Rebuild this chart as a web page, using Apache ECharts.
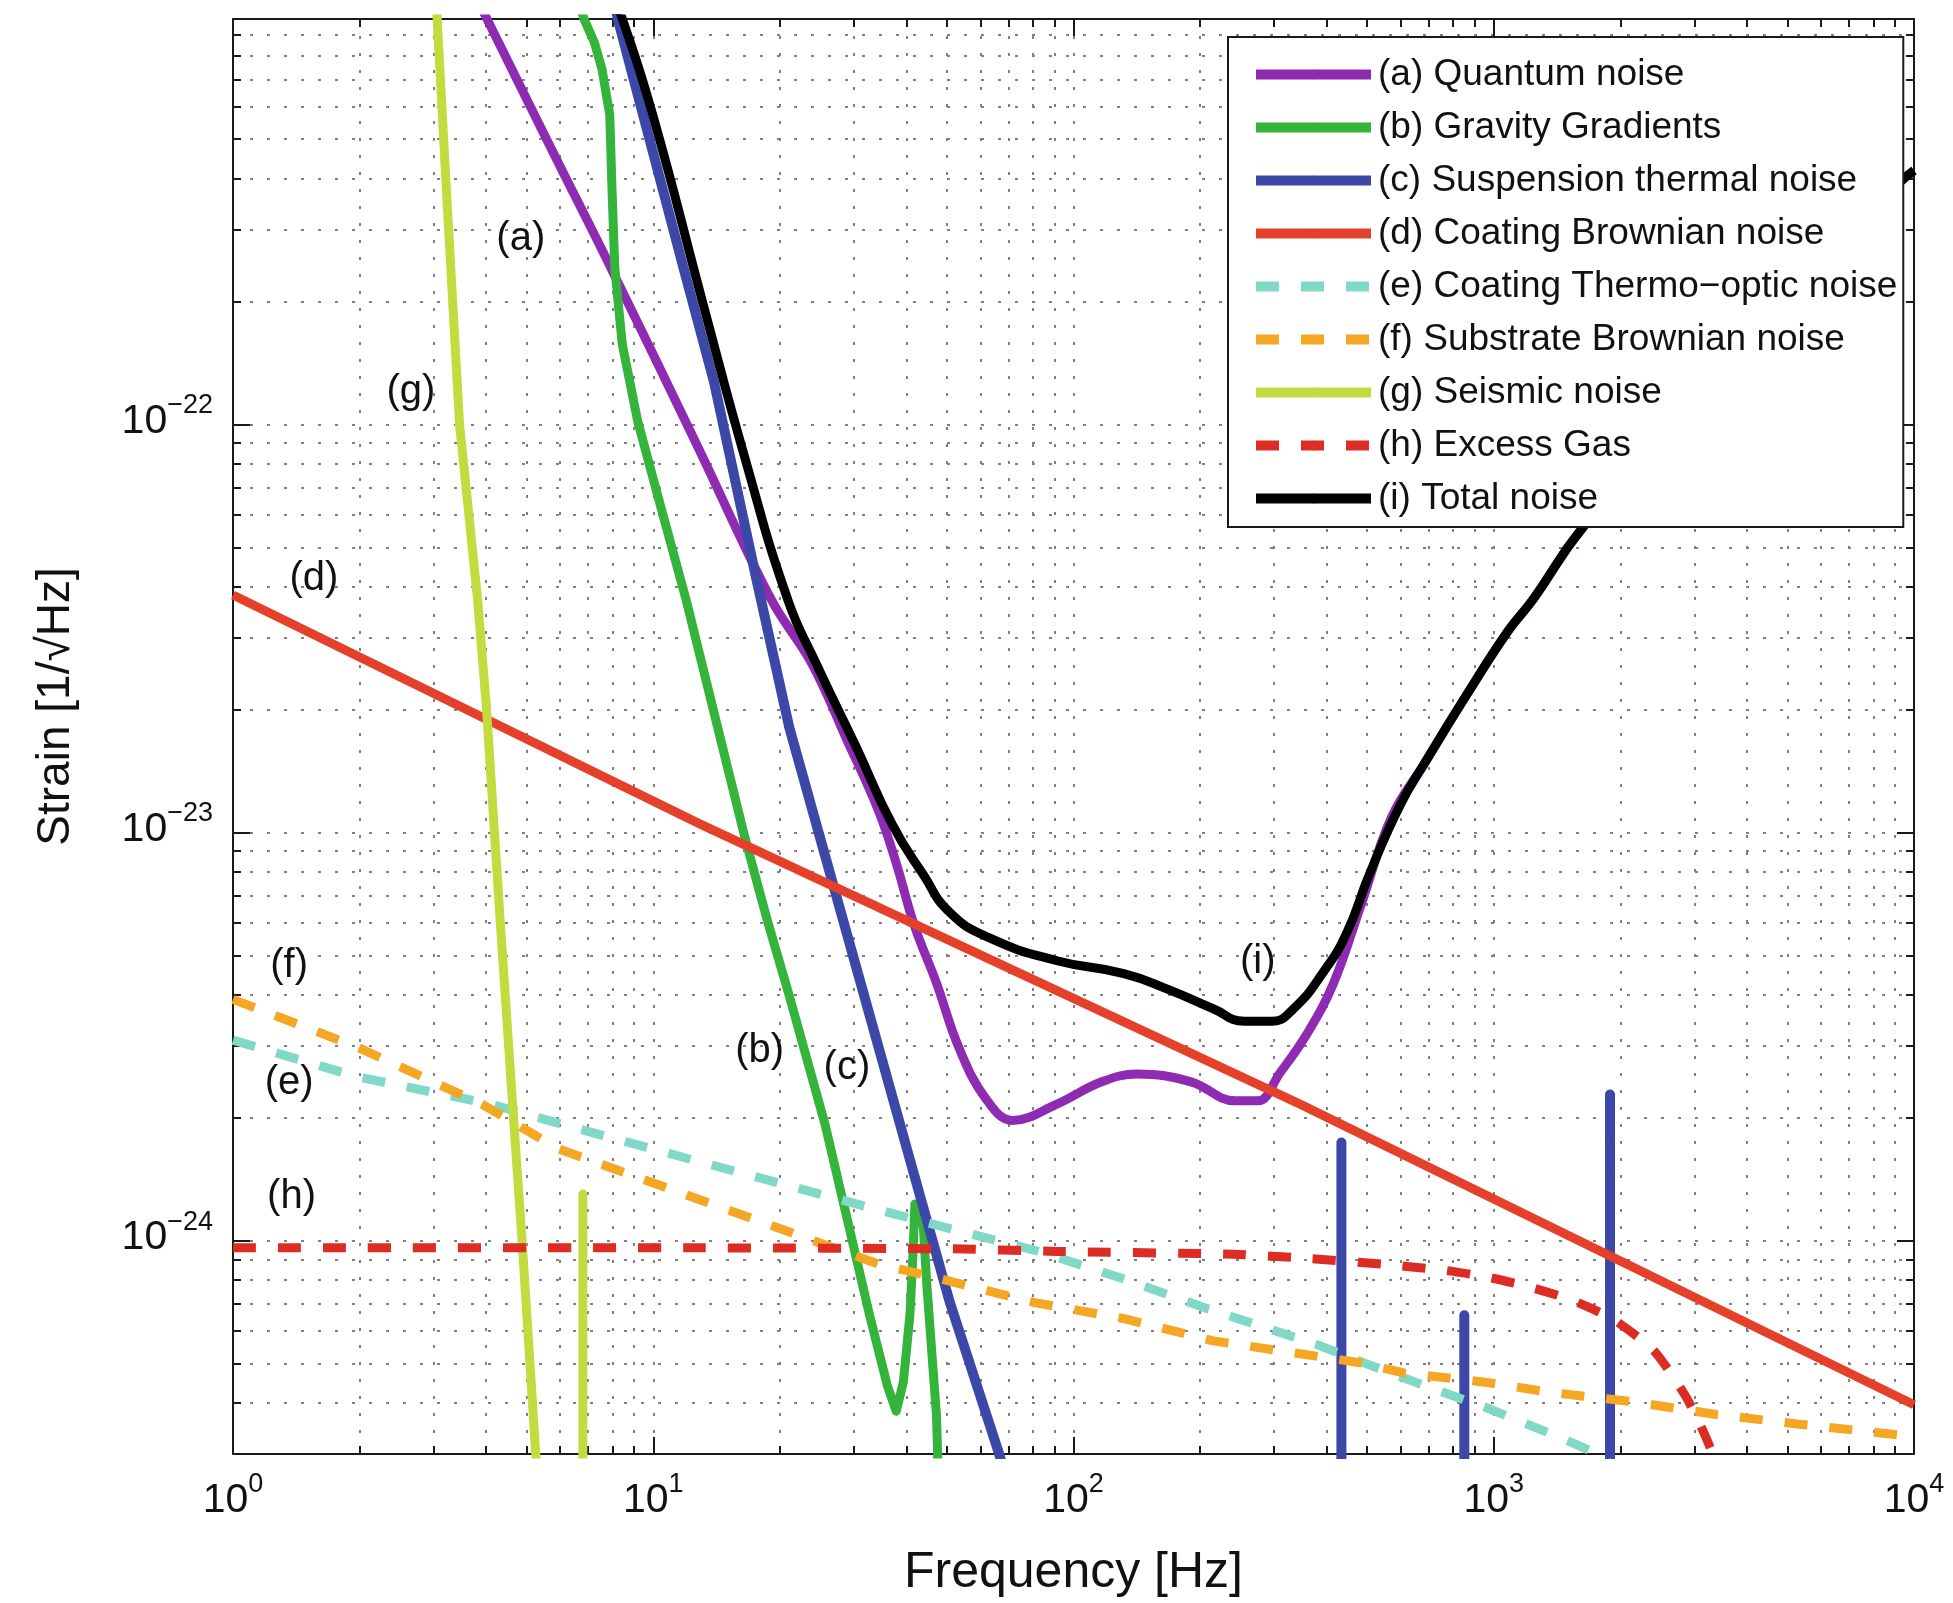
<!DOCTYPE html>
<html>
<head>
<meta charset="utf-8">
<script src="https://cdn.jsdelivr.net/npm/echarts@6/dist/echarts.min.js"></script>
<style>
html,body{margin:0;padding:0;background:#ffffff;}
#chart{width:1953px;height:1603px;}
</style>
</head>
<body>
<div id="chart"></div>
<script>
// ---------------- data (frequency in Hz, strain in 1/sqrt(Hz)) ----------------
const quantumF = [3.9, 5.79, 7.85, 12.66, 19.1, 23.8, 28.94, 34.36, 37.87, 41.8, 47.2, 53.3, 61.8, 71.6, 91.3, 116.7, 141.9, 190.3, 242.7, 274.5, 310.3, 359.4, 416, 482, 571, 685, 861, 1080, 1239, 1618, 3162, 9057, 10000];
const quantumH = [1.05e-21, 4.62e-22, 2.47e-22, 8.97e-23, 3.72e-23, 2.60e-23, 1.68e-23, 1.13e-23, 8.40e-24, 5.92e-24, 4.28e-24, 2.98e-24, 2.23e-24, 1.97e-24, 2.16e-24, 2.45e-24, 2.56e-24, 2.45e-24, 2.20e-24, 2.20e-24, 2.58e-24, 3.21e-24, 4.28e-24, 6.59e-24, 1.09e-23, 1.48e-23, 2.17e-23, 3.11e-23, 3.72e-23, 5.54e-23, 1.23e-22, 3.84e-22, 4.19e-22];

const gravityF = [6.6, 6.85, 7.25, 7.55, 7.88, 7.98, 8.10, 8.44, 9.18, 10.27, 11.97, 16.49, 18.64, 21.07, 25.62, 28.94, 32.72, 36.06, 37.86, 39.36, 40.8, 41.56, 41.93, 43.9, 44.71, 47.2, 47.5, 48];
const gravityH = [1.1e-21, 9.83e-22, 8.6e-22, 7.43e-22, 5.74e-22, 3.73e-22, 2.42e-22, 1.57e-22, 1.02e-22, 6.64e-23, 3.72e-23, 9.80e-24, 6.14e-24, 3.98e-24, 1.93e-24, 1.13e-24, 6.56e-25, 4.41e-25, 3.82e-25, 4.50e-25, 6.55e-25, 9.55e-25, 1.23e-24, 1.09e-24, 7.94e-25, 3.73e-25, 3.0e-25, 1.5e-25];

const suspensionF = [8.0, 8.23, 11.8, 13.95, 17.48, 21.07, 26.9, 34.36, 41.76, 50.8, 66.4, 70, 434, 434, 434, 851, 851, 851, 1891, 1891, 1891];
const suspensionH = [1.15e-21, 9.86e-22, 2.42e-22, 1.27e-22, 4.31e-23, 1.81e-23, 7.35e-24, 2.98e-24, 1.45e-24, 7.05e-25, 3.02e-25, 2.5e-25, 1e-26, 1.74e-24, 1e-26, 1e-26, 6.56e-25, 1e-26, 1e-26, 2.28e-24, 1e-26];

const coatBrownF = [1, 12.9, 346, 10000];
const coatBrownH = [3.82e-23, 1.05e-23, 2.16e-24, 3.96e-25];

const thermoOpticF = [1, 1.975, 4.11, 5.93, 12.9, 30.4, 50.8, 82.8, 132, 205, 378, 493, 685, 964, 1422, 1744, 2500];
const thermoOpticH = [3.10e-24, 2.52e-24, 2.16e-24, 1.94e-24, 1.56e-24, 1.23e-24, 1.07e-24, 9.41e-25, 8.05e-25, 6.85e-25, 5.57e-25, 5.01e-25, 4.41e-25, 3.89e-25, 3.31e-25, 3.02e-25, 2.3e-25];

const substrateF = [1, 1.975, 3.91, 5.93, 12.9, 21.1, 34.4, 46.0, 80.8, 132, 215, 346, 487, 611, 964, 1359, 2140, 3379, 5336, 10000];
const substrateH = [3.90e-24, 2.98e-24, 2.16e-24, 1.68e-24, 1.26e-24, 1.05e-24, 8.75e-25, 8.16e-25, 7.05e-25, 6.44e-25, 5.68e-25, 5.28e-25, 5.01e-25, 4.74e-25, 4.49e-25, 4.25e-25, 4.03e-25, 3.75e-25, 3.55e-25, 3.31e-25];

const seismicF = [3.03, 3.06, 3.21, 3.46, 3.82, 4.01, 4.32, 4.64, 4.87, 5.25, 5.35, 6.8, 6.8, 6.8];
const seismicH = [1.3e-21, 9.9e-22, 3.97e-22, 1.0e-22, 3.72e-23, 2.02e-23, 6.13e-24, 2.07e-24, 1.01e-24, 3.03e-25, 2.2e-25, 1e-26, 1.3e-24, 1e-26];

const gasF = [1, 12.9, 50, 91, 240, 346, 545, 768, 964, 1211, 1521, 1913, 2403, 2884, 3307, 3600];
const gasH = [9.6e-25, 9.6e-25, 9.55e-25, 9.41e-25, 9.26e-25, 9.07e-25, 8.75e-25, 8.45e-25, 8.14e-25, 7.71e-25, 7.17e-25, 6.44e-25, 5.38e-25, 4.10e-25, 3.02e-25, 2.0e-25];

const totalF = [8.05, 8.45, 9.97, 13.18, 16.51, 20.9, 24.39, 30.4, 36.98, 43.86, 50.8, 63.3, 91.4, 131.8, 168.4, 215, 255, 295.4, 334, 396, 448, 506, 597, 685, 861, 1080, 1239, 1618, 3162, 9057, 10000];
const totalH = [1.1e-21, 9.83e-22, 5.74e-22, 1.95e-22, 8.3e-23, 3.72e-23, 2.60e-23, 1.62e-23, 1.05e-23, 7.90e-24, 6.37e-24, 5.51e-24, 4.85e-24, 4.51e-24, 4.12e-24, 3.70e-24, 3.45e-24, 3.45e-24, 3.70e-24, 4.60e-24, 5.71e-24, 7.90e-24, 1.16e-23, 1.48e-23, 2.17e-23, 3.11e-23, 3.72e-23, 5.54e-23, 1.23e-22, 3.84e-22, 4.19e-22];

const seriesNames = ['(a) Quantum noise', '(b) Gravity Gradients', '(c) Suspension thermal noise', '(d) Coating Brownian noise', '(e) Coating Thermo\u2212optic noise', '(f) Substrate Brownian noise', '(g) Seismic noise', '(h) Excess Gas', '(i) Total noise'];

// in-plot curve tags
const tagTexts = ['(a)', '(b)', '(c)', '(d)', '(e)', '(f)', '(g)', '(h)', '(i)'];
const tagF = [4.84, 17.92, 28.9, 1.558, 1.36, 1.36, 2.65, 1.378, 274.5];
const tagH = [2.85e-22, 2.91e-24, 2.65e-24, 4.19e-23, 2.44e-24, 4.72e-24, 1.2e-22, 1.28e-24, 4.82e-24];

// axis ticks
const xMajorTicks = [1, 10, 100, 1000, 10000];
const xMinorTicks = [2, 3, 4, 5, 6, 7, 8, 9, 20, 30, 40, 50, 60, 70, 80, 90, 200, 300, 400, 500, 600, 700, 800, 900, 2000, 3000, 4000, 5000, 6000, 7000, 8000, 9000];
const yMajorTicks = [1e-24, 1e-23, 1e-22];
const yMinorTicks = [4e-25, 5e-25, 6e-25, 7e-25, 8e-25, 9e-25, 2e-24, 3e-24, 4e-24, 5e-24, 6e-24, 7e-24, 8e-24, 9e-24, 2e-23, 3e-23, 4e-23, 5e-23, 6e-23, 7e-23, 8e-23, 9e-23, 2e-22, 3e-22, 4e-22, 5e-22, 6e-22, 7e-22, 8e-22, 9e-22];

const X_MIN = 1, X_MAX = 10000, Y_MIN = 3.0e-25, Y_MAX = 9.85e-22;

// ---------------- chart ----------------
// The strain axis is drawn in units of 1e-24 (ECharts rounds tiny numbers to 0 internally);
// labels convert back to the true powers of ten.
const Y_UNIT = 1e24;
const FONT = '"Liberation Sans", Arial, Helvetica, sans-serif';
const INK = '#111111';
const pairs = (fs, hs) => fs.map((f, i) => [f, hs[i] * Y_UNIT]);
const yu = v => v * Y_UNIT;

function powLabelX(v) {
  const e = Math.round(Math.log10(v));
  return '{b|10}{s|' + String(e).replace('-', '\u2212') + '}';
}
function powLabelY(v) {
  const e = Math.round(Math.log10(v / Y_UNIT));
  return '{b|10}{s|' + String(e).replace('-', '\u2212') + '}';
}
const powRich = {
  b: {fontSize: 41, lineHeight: 50, verticalAlign: 'bottom', fontFamily: FONT, color: INK},
  s: {fontSize: 27, lineHeight: 27, verticalAlign: 'top', fontFamily: FONT, color: INK}
};
const gridDots = {color: '#808080', width: 2, type: [3, 14]};
const axisInk = {color: '#1a1a1a', width: 2};

function logAxis(dim, opts) {
  const base = {
    type: 'log', logBase: 10, gridIndex: 0,
    min: dim === 'x' ? X_MIN : yu(Y_MIN),
    max: dim === 'x' ? X_MAX : yu(Y_MAX),
    axisLine: {show: false, onZero: false, lineStyle: axisInk},
    axisTick: {show: true, inside: true, length: 17, lineStyle: axisInk},
    axisLabel: {show: false},
    splitLine: {show: false},
    minorTick: {show: false},
    minorSplitLine: {show: false},
    silent: true
  };
  return Object.assign(base, opts);
}

const chart = echarts.init(document.getElementById('chart'), null, {renderer: 'canvas', width: 1953, height: 1603});

function lineSeries(name, fs, hs, color, extra) {
  return Object.assign({
    name: name, type: 'line', xAxisIndex: 0, yAxisIndex: 0,
    data: pairs(fs, hs), symbol: 'none', showSymbol: false, clip: true,
    silent: true, animation: false,
    lineStyle: {color: color, width: 9, cap: 'butt', join: 'round'},
    itemStyle: {color: color}
  }, extra || {});
}

const dash = [23, 22];
const yMajorU = yMajorTicks.map(yu);
const yMinorU = yMinorTicks.map(yu);

const option = {
  backgroundColor: '#ffffff',
  animation: false,
  grid: {left: 233, right: 39, top: 19, bottom: 149, containLabel: false},
  xAxis: [
    logAxis('x', {
      position: 'bottom',
      axisLine: {show: true, onZero: false, lineStyle: axisInk},
      axisTick: {show: true, inside: true, length: 17, lineStyle: axisInk, customValues: xMajorTicks},
      axisLabel: {show: true, customValues: xMajorTicks, formatter: powLabelX, rich: powRich, margin: 17, fontSize: 41, fontFamily: FONT, color: INK},
      splitLine: {show: true, lineStyle: gridDots},
      name: 'Frequency [Hz]', nameLocation: 'middle', nameGap: 94,
      nameTextStyle: {fontSize: 50, fontFamily: FONT, color: INK}
    }),
    logAxis('x', {
      position: 'bottom',
      axisTick: {show: true, inside: true, length: 8, lineStyle: axisInk, customValues: xMinorTicks},
      splitLine: {show: true, lineStyle: gridDots}
    }),
    logAxis('x', {
      position: 'top',
      axisLine: {show: true, onZero: false, lineStyle: axisInk},
      axisTick: {show: true, inside: true, length: 17, lineStyle: axisInk, customValues: xMajorTicks}
    }),
    logAxis('x', {
      position: 'top',
      axisTick: {show: true, inside: true, length: 8, lineStyle: axisInk, customValues: xMinorTicks}
    })
  ],
  yAxis: [
    logAxis('y', {
      position: 'left',
      axisLine: {show: true, onZero: false, lineStyle: axisInk},
      axisTick: {show: true, inside: true, length: 17, lineStyle: axisInk, customValues: yMajorU},
      axisLabel: {show: true, customValues: yMajorU, formatter: powLabelY, rich: powRich, margin: 20, padding: [0, 0, 14, 0], fontSize: 41, fontFamily: FONT, color: INK},
      splitLine: {show: true, lineStyle: gridDots},
      name: 'Strain [1/\u221AHz]', nameLocation: 'middle', nameGap: 154, nameRotate: 90,
      nameTextStyle: {fontSize: 46, fontFamily: FONT, color: INK, padding: [0, 0, 0, 60]}
    }),
    logAxis('y', {
      position: 'left',
      axisTick: {show: true, inside: true, length: 8, lineStyle: axisInk, customValues: yMinorU},
      splitLine: {show: true, lineStyle: gridDots}
    }),
    logAxis('y', {
      position: 'right',
      axisLine: {show: true, onZero: false, lineStyle: axisInk},
      axisTick: {show: true, inside: true, length: 17, lineStyle: axisInk, customValues: yMajorU}
    }),
    logAxis('y', {
      position: 'right',
      axisTick: {show: true, inside: true, length: 8, lineStyle: axisInk, customValues: yMinorU}
    })
  ],
  legend: {
    data: seriesNames,
    orient: 'vertical',
    left: 1228, top: 37,
    itemWidth: 115, itemHeight: 12, itemGap: 16,
    padding: [19, 6, 10, 23],
    backgroundColor: '#ffffff',
    borderColor: '#1a1a1a', borderWidth: 2, borderRadius: 0,
    selectedMode: false,
    lineStyle: {width: 10},
    textStyle: {fontSize: 37, lineHeight: 37, fontFamily: FONT, color: INK, padding: [0, 0, 0, 2]},
    z: 10
  },
  series: [
    lineSeries(seriesNames[0], quantumF, quantumH, '#8f2bb3', {smooth: 0.4}),
    lineSeries(seriesNames[1], gravityF, gravityH, '#35b43c'),
    lineSeries(seriesNames[2], suspensionF, suspensionH, '#3b48a8', {lineStyle: {color: '#3b48a8', width: 10, cap: 'butt', join: 'round'}}),
    lineSeries(seriesNames[3], coatBrownF, coatBrownH, '#e5402a'),
    lineSeries(seriesNames[4], thermoOpticF, thermoOpticH, '#80d8c6', {lineStyle: {color: '#80d8c6', width: 9, type: dash, cap: 'butt'}}),
    lineSeries(seriesNames[5], substrateF, substrateH, '#f5a623', {lineStyle: {color: '#f5a623', width: 9, type: dash, cap: 'butt'}}),
    lineSeries(seriesNames[6], seismicF, seismicH, '#c2dc3f'),
    lineSeries(seriesNames[7], gasF, gasH, '#dc2c24', {lineStyle: {color: '#dc2c24', width: 9, type: dash, cap: 'butt'}, smooth: 0.2}),
    lineSeries(seriesNames[8], totalF, totalH, '#000000', {smooth: 0.5})
  ]
};
chart.setOption(option);

// curve tags placed at data coordinates through the chart's own scales
const tagGraphics = tagTexts.map((t, i) => {
  const p = chart.convertToPixel({xAxisIndex: 0, yAxisIndex: 0}, [tagF[i], yu(tagH[i])]);
  return {
    type: 'text', x: p[0], y: p[1], silent: true, z: 50,
    style: {text: t, fill: INK, font: '40px ' + FONT, textAlign: 'center', textVerticalAlign: 'middle'}
  };
});
chart.setOption({graphic: tagGraphics});
</script>
</body>
</html>
